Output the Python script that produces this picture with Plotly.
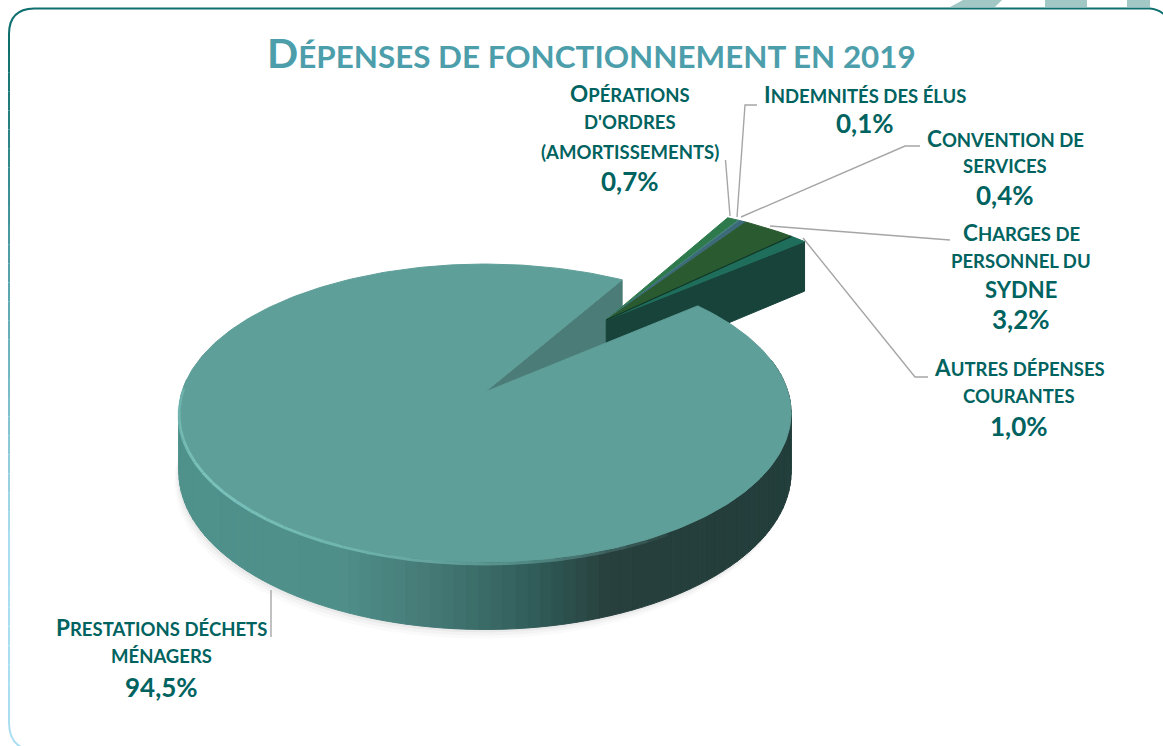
import math
import plotly.graph_objects as go

# ---------- data ----------
categories = ["Prestations déchets ménagers", "Opérations d'ordres (amortissements)",
              "Indemnités des élus", "Convention de services",
              "Charges de personnel du SYDNE", "Autres dépenses courantes"]
values = [94.5, 0.7, 0.1, 0.4, 3.2, 1.0]
label_lines = [["Prestations déchets", "ménagers"],
               ["Opérations", "d'ordres", "(amortissements)"],
               ["Indemnités des élus"],
               ["Convention de", "services"],
               ["Charges de", "personnel du", "SYDNE"],
               ["Autres dépenses", "courantes"]]
title_text = "Dépenses de fonctionnement en 2019"

# ---------- style / layout ----------
W, H = 1163, 746
TEAL = "#00635F"
TOP = "#5F9F99"
slice_colors = [TOP, "#2E7A4C", "#4A8585", "#3D6A78", "#2A5A2F", "#1F6E5C"]
label_pos = [(161, [627, 656], 687), (630, [93, 122, 152], 181), (865, [94], 123),
             (1005, [138, 166], 195), (1021, [232, 261, 289], 319), (1019, [367, 396], 426)]
leaders = [[(271, 590), (271, 637)],
           [(730, 216), (725.5, 160)],
           [(737, 217), (745, 105), (757, 105)],
           [(741, 217), (905, 146), (920, 146)],
           [(770, 226), (950, 240)],
           [(803, 238), (915, 377), (928, 377)]]

CX, CY, A, B, K, DEPTH = 485, 392, 146, 303, 0.141, 58
START = 59.5
EXPL = (0.43, 0.53)
EXPL_R = 1.05


def project(X, Y, z=0.0):
    s = 1 + K * Y
    return CX + B * X / s, CY - A * Y / s + DEPTH * z / s


def rim(angle, z=0.0, off=(0, 0), r=1.0):
    a = math.radians(angle)
    return project(off[0] + r * math.cos(a), off[1] + r * math.sin(a), z)


def arc(a0, a1, z=0.0, off=(0, 0), r=1.0):
    n = max(2, int(abs(a1 - a0) / 1.0) + 1)
    return [rim(a0 + (a1 - a0) * i / (n - 1), z, off, r) for i in range(n)]


def poly(points, color, opacity=1.0, edge=True):
    xs, ys = zip(*points)
    fig.add_trace(go.Scatter(x=list(xs) + [xs[0]], y=list(ys) + [ys[0]], mode="lines", fill="toself",
                             fillcolor=color, opacity=opacity,
                             line=dict(color=color, width=1 if edge else 0),
                             hoverinfo="skip", showlegend=False))


def path(points, color, width, opacity=1.0):
    xs, ys = zip(*points)
    fig.add_trace(go.Scatter(x=list(xs), y=list(ys), mode="lines", opacity=opacity,
                             line=dict(color=color, width=width),
                             hoverinfo="skip", showlegend=False))


def mix(c0, c1, t):
    a = [int(c0[i:i + 2], 16) for i in (1, 3, 5)]
    b = [int(c1[i:i + 2], 16) for i in (1, 3, 5)]
    return "#%02x%02x%02x" % tuple(round(a[i] + (b[i] - a[i]) * t) for i in range(3))


def wall_color(x):
    stops = [(180, "#4F918B"), (340, "#4F8F8A"), (430, "#457A76"), (530, "#315E5B"),
             (610, "#273F3D"), (800, "#223E3B")]
    for (x0, c0), (x1, c1) in zip(stops, stops[1:]):
        if x <= x1:
            return mix(c0, c1, max(0, (x - x0) / (x1 - x0)))
    return stops[-1][1]


total = sum(values)
spans = [v / total * 360 for v in values]
main_end = START + spans[0]

fig = go.Figure()

# soft ground shadow
for sh, op in ((15, 0.03), (10, 0.05), (5, 0.07)):
    pts = [(x - sh * 0.3, y + sh * 0.6) for x, y in arc(170, 350, 1.0)]
    poly(pts + [(490, 500)], "#6E6E6E", op, False)

# main slice: cut face seen through the gap
poly([project(0, 0), rim(START), rim(START, 1), project(0, 0, 1)], "#4B7C78")

# exploded slices: walls, then tops
angles = [START]
for sp in spans[1:]:
    angles.append(angles[-1] - sp)
wall_dark = "#17433A"
end_a = angles[-1]
poly([project(*EXPL), rim(end_a, 0, EXPL, EXPL_R), rim(end_a, 1, EXPL, EXPL_R),
      project(EXPL[0], EXPL[1], 1)], wall_dark)
for i in range(1, len(values)):
    poly([project(*EXPL)] + arc(angles[i - 1], angles[i], 0, EXPL, EXPL_R), slice_colors[i])
path([project(*EXPL), rim(angles[4], 0, EXPL, EXPL_R)], "#123524", 1.2)

# main slice: shaded outer wall, built from many narrow strips
sweep_a, sweep_b = 175, 372
step = 2
for a in range(sweep_a, sweep_b, step):
    x = rim(a + step / 2)[0]
    poly(arc(a, a + step) + arc(a + step, a, 1), wall_color(x))

# main slice: top face
poly([project(0, 0)] + arc(START, main_end), slice_colors[0])

# bevel highlight along the front rim
for a in range(178, 300, 4):
    t = (a - 178) / 122
    path(arc(a, a + 4, 0.03), "#86D0C9", 3, min(0.95, 0.35 + 2.2 * t) * (1 - t) ** 0.6)

# leader lines
for pts in leaders:
    path(pts, "#A6A6A6", 1.4)


def small_caps(text, big=22.5, small=18.5):
    out = []
    for ch in text:
        size = big if ch.isupper() else small
        out.append(f'<span style="font-size:{size}px">{ch.upper()}</span>')
    return "".join(out)


anns = []
for name_lines, (x, ys, py), v in zip(label_lines, label_pos, values):
    for line, y in zip(name_lines, ys):
        txt = small_caps(line) if line != "SYDNE" else f'<span style="font-size:22px">{line}</span>'
        anns.append(dict(x=x, y=y, text=f"<b>{txt}</b>", font_size=18))
    anns.append(dict(x=x, y=py, text=f"<b>{str(v).replace('.', ',')}%</b>", font_size=26))
anns.append(dict(x=591, y=52, font_size=31, font_color="#4C9EAB",
                 text="<b>" + small_caps(title_text, 41, 31.4) + "</b>"))
for a in anns:
    fc = a.pop("font_color", TEAL)
    fs = a.pop("font_size")
    a.update(xref="x", yref="y", showarrow=False, xanchor="center", yanchor="middle",
             font=dict(family="Lato, sans-serif", color=fc, size=fs))

# frame
shapes = []
for quad in ([(950, 7), (995, 7), (1002, 0), (963, 0)],
             [(1045, 7), (1087, 7), (1087, 0), (1045, 0)],
             [(1127, 7), (1150, 7), (1150, 0), (1127, 0)]):
    d = "M " + " L ".join(f"{x},{y}" for x, y in quad) + " Z"
    shapes.append(dict(type="path", path=d, fillcolor="#A2C8C6", line_width=0, layer="below"))
dark, light = "#0F6E6E", "#A9DDF1"
shapes.append(dict(type="path", path="M 34,8.5 L 1150,8.5 Q 1158,9 1165,15", line=dict(color=dark, width=2),
                   layer="below"))
shapes.append(dict(type="path", path="M 9,34 Q 9,9 34,8.5", line=dict(color=dark, width=2), layer="below"))
n = 36
for i in range(n):
    y0, y1 = 34 + (722 - 34) * i / n, 34 + (722 - 34) * (i + 1) / n
    c = mix(dark, light, min(1, i / (n * 0.72)))
    shapes.append(dict(type="line", x0=9, x1=9, y0=y0, y1=y1, line=dict(color=c, width=2), layer="below"))
shapes.append(dict(type="path", path="M 9,722 Q 9,742 23,748", line=dict(color=light, width=2), layer="below"))

fig.update_layout(
    width=W, height=H, margin=dict(l=0, r=0, t=0, b=0), paper_bgcolor="white", plot_bgcolor="white",
    xaxis=dict(range=[0, W], visible=False, fixedrange=True),
    yaxis=dict(range=[H, 0], visible=False, fixedrange=True),
    showlegend=False, annotations=anns, shapes=shapes,
)
fig.write_html("out.html", config={"displayModeBar": False},
               post_script="document.body.style.margin='0';document.body.style.overflow='hidden';")
